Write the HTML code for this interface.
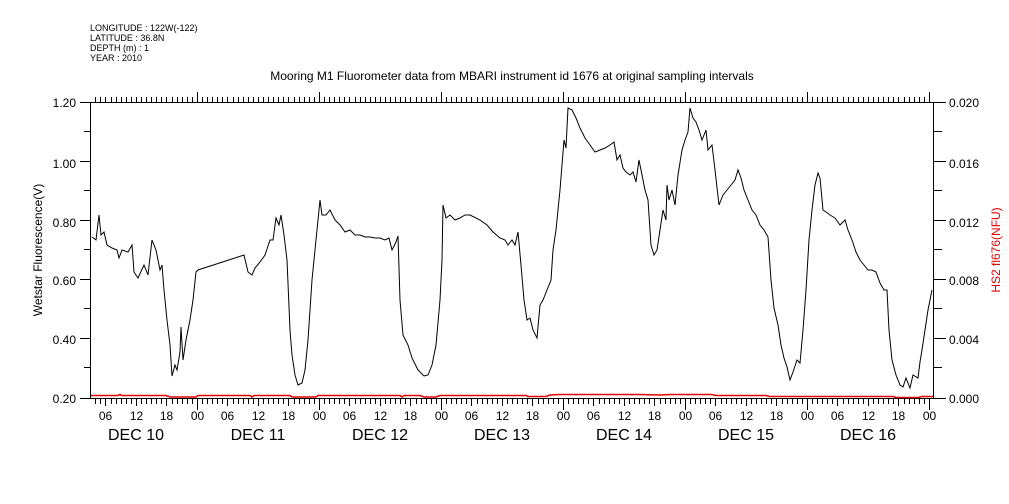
<!DOCTYPE html>
<html><head><meta charset="utf-8"><style>
html,body{margin:0;padding:0;background:#fff;}
svg{display:block;font-family:"Liberation Sans",sans-serif;}
</style></head><body>
<svg width="1009" height="504" viewBox="0 0 1009 504" xmlns="http://www.w3.org/2000/svg">
<g font-size="9" fill="#000">
<text x="90" y="31">LONGITUDE : 122W(-122)</text>
<text x="90" y="41">LATITUDE : 36.8N</text>
<text x="90" y="51">DEPTH (m) : 1</text>
<text x="90" y="61">YEAR : 2010</text>
</g>
<text x="512" y="80" font-size="12" text-anchor="middle">Mooring M1 Fluorometer data from MBARI instrument id 1676 at original sampling intervals</text>
<g stroke="#000" stroke-width="1" fill="none" shape-rendering="crispEdges">
<line x1="90.5" y1="102" x2="90.5" y2="399"/>
<line x1="933.5" y1="102" x2="933.5" y2="399"/>
<line x1="90" y1="102.5" x2="934" y2="102.5"/>
<line x1="90" y1="398.5" x2="934" y2="398.5"/>
<path id="tk" d=""/>
</g>
<g id="ticks" stroke="#000" stroke-width="1" shape-rendering="crispEdges"></g>
<g font-size="12" text-anchor="end">
<text x="76" y="107">1.20</text><text x="76" y="168">1.00</text><text x="76" y="227">0.80</text>
<text x="76" y="285">0.60</text><text x="76" y="344">0.40</text><text x="76" y="403">0.20</text>
</g>
<g font-size="12">
<text x="949" y="107">0.020</text><text x="949" y="168">0.016</text><text x="949" y="227">0.012</text>
<text x="949" y="285">0.008</text><text x="949" y="344">0.004</text><text x="949" y="403">0.000</text>
</g>
<text transform="translate(42,250) rotate(-90)" font-size="12" text-anchor="middle">Wetstar Fluorescence(V)</text>
<text transform="translate(1000,250) rotate(-90)" font-size="12" text-anchor="middle" fill="#e00000">HS2 fl676(NFU)</text>
<g id="xl" font-size="12" text-anchor="middle"></g>
<g font-size="16" text-anchor="middle">
<text x="136" y="440">DEC 10</text><text x="258" y="440">DEC 11</text><text x="380" y="440">DEC 12</text>
<text x="502" y="440">DEC 13</text><text x="624" y="440">DEC 14</text><text x="746" y="440">DEC 15</text><text x="868" y="440">DEC 16</text>
</g>
<polyline fill="none" stroke="#e00000" stroke-width="1.5" points="91,395.5 118,395.5 120,394.5 122,395.5 166,395.5 170,397 196,397 198,395.5 250,395.5 252,397 254,395.5 290,395.5 292,397 316,397 318,395.5 400,395.5 402,397 404,395.5 420,395.5 424,397 436,397 440,395.5 526,395.5 528,396.5 546,396.5 550,395 560,394.5 640,394.5 660,395 670,394.5 712,394.5 716,395.5 766,395.5 770,396.5 850,396.5 858,396.5 893,396.5 896,397.5 918,397.5 922,396.5 933,396.5"/>
<polyline fill="none" stroke="#000" stroke-width="1" points="92,237 96,240 99,215 101,235 104,232 107,245 112,248 117,250 119,258 122,250 128,252 132,245 134,272 138,278 144,265 148,275 152,240 156,250 160,270 162,265 164,290 167,320 170,345 172,376 175,365 177,370 180,352 181,327 183,360 186,340 190,320 193,300 196,272 198,270 244,255 248,272 252,275 255,268 260,262 265,255 270,240 273,240 276,218 279,225 281,215 284,235 287,260 290,330 292,355 295,375 298,385 302,383 305,370 308,340 312,280 316,240 320,200 322,215 326,215 330,210 335,220 340,225 345,232 350,230 355,235 360,235 365,237 370,237 375,238 380,238 385,240 389,238 392,250 396,242 398,236 400,300 403,335 408,345 412,358 418,370 424,376 428,375 432,365 436,345 440,300 442,260 443,205 446,218 450,215 455,220 460,218 465,215 470,215 480,220 487,225 493,232 500,238 505,240 508,245 512,240 515,245 518,232 521,265 524,300 527,320 530,318 533,330 537,338 540,305 543,300 547,290 551,280 553,250 556,230 560,190 564,140 566,148 568,108 572,110 576,118 580,128 585,138 590,145 595,152 600,150 605,148 610,145 614,142 617,160 620,155 623,168 626,172 630,175 633,172 636,182 639,160 642,175 645,190 648,200 651,245 654,255 657,250 660,230 663,210 666,220 667,185 669,200 672,190 675,205 678,175 682,150 685,140 688,132 690,108 693,118 696,122 699,130 702,140 706,130 708,150 712,145 715,170 719,205 723,195 727,190 731,185 735,180 738,170 741,178 744,190 748,200 752,210 756,215 760,225 764,230 768,237 771,280 774,308 778,325 781,345 784,358 787,367 790,380 793,372 797,360 800,363 803,330 806,290 809,240 812,210 815,185 818,173 820,178 823,210 826,212 830,215 835,218 840,225 845,220 848,230 852,240 856,252 860,260 864,265 868,270 872,270 876,272 880,283 884,290 887,290 889,330 892,360 896,375 900,385 903,387 906,378 910,388 913,375 918,378 920,362 922,350 925,330 928,310 932,290"/>
<script>
var ns="http://www.w3.org/2000/svg",g=document.getElementById("ticks"),xl=document.getElementById("xl");
function L(x1,y1,x2,y2){var l=document.createElementNS(ns,"line");l.setAttribute("x1",x1);l.setAttribute("y1",y1);l.setAttribute("x2",x2);l.setAttribute("y2",y2);g.appendChild(l);}
for(var h=4;h<=169;h++){var x=Math.round(75+h*5.083)+0.5;if(x<91||x>933)continue;var big=h%24==0,mid=h%6==0;
L(x,399,x,big?410:(mid?406:404));L(x,102,x,big?92:97);
if(mid){var t=document.createElementNS(ns,"text");t.setAttribute("x",x);t.setAttribute("y",420);var hh=h%24;t.textContent=(hh<10?"0":"")+hh;xl.appendChild(t);}}
var ys=[102.5,131.5,161.5,190.5,220.5,249.5,279.5,308.5,338.5,367.5,398.5];
ys.forEach(function(y,i){L(i%2?84:80,y,90,y);L(934,y,i%2?942:946,y);});
</script>
</svg>
</body></html>
